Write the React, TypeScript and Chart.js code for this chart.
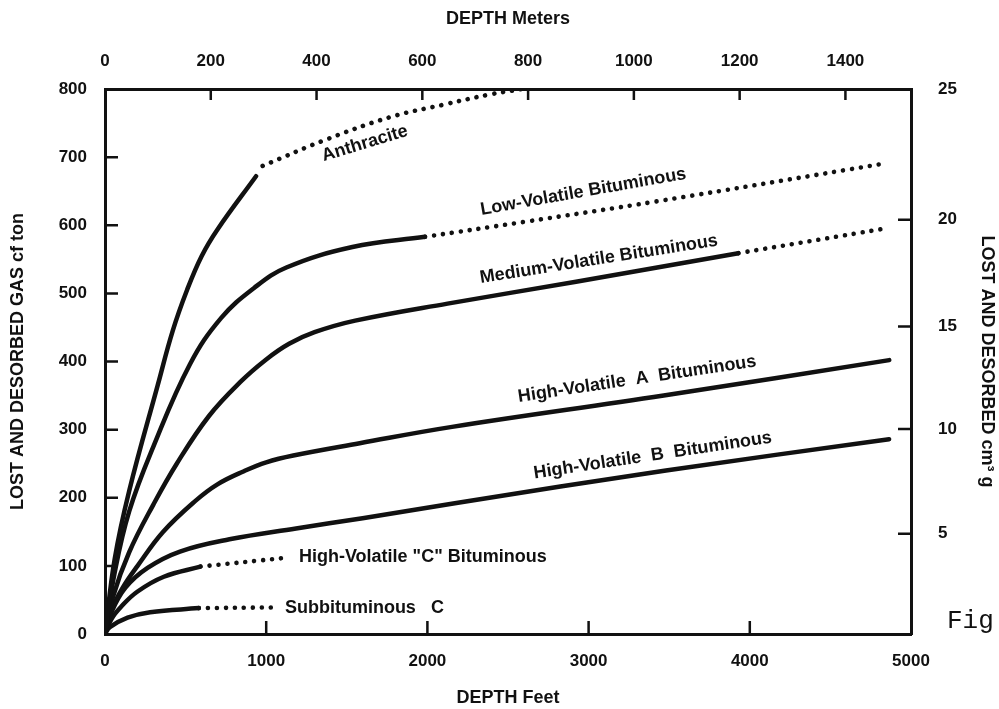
import React, { useEffect, useRef } from 'react';
import { Chart, registerables } from 'chart.js';

Chart.register(...registerables);

// ---------- axes ----------
const bottomTickValues = [0, 1000, 2000, 3000, 4000, 5000];
const topTickValues = [0, 200, 400, 600, 800, 1000, 1200, 1400];
const leftTickValues = [0, 100, 200, 300, 400, 500, 600, 700, 800];
const rightTickPositions = [4.6, 9.4, 14.1, 19.0, 25];
const rightTickLabels = ['5', '10', '15', '20', '25'];
const FEET_MAX = 5000;
const METERS_MAX = FEET_MAX * 0.3048;

// ---------- series (depth ft, gas cf/ton) ----------
const anthraciteSolidFt = [0, 60, 150, 328, 420, 509, 600, 701, 937];
const anthraciteSolidGas = [0, 110, 210, 366, 445, 505, 555, 595, 672];
const anthraciteDotFt = [978, 1363, 1773, 2100, 2387, 2590];
const anthraciteDotGas = [687, 725, 759, 777, 792, 800];

const lowVolSolidFt = [0, 60, 150, 300, 527, 721, 925, 1125, 1535, 1985];
const lowVolSolidGas = [0, 90, 180, 275, 396, 464, 508, 538, 568, 583];
const lowVolDotFt = [1985, 2602, 3421, 4820];
const lowVolDotGas = [583, 605, 635, 690];

const medVolSolidFt = [0, 50, 150, 300, 445, 645, 840, 1000, 1142, 1300, 1552, 2125, 2922, 3929];
const medVolSolidGas = [0, 55, 120, 190, 250, 320, 370, 403, 426, 443, 460, 485, 517, 559];
const medVolDotFt = [3929, 4835];
const medVolDotGas = [559, 595];

const hvaFt = [0, 40, 110, 202, 361, 559, 700, 862, 1000, 1168, 1580, 2153, 3466, 4865];
const hvaGas = [0, 35, 68, 100, 150, 195, 220, 239, 252, 262, 280, 304, 350, 402];

const hvbFt = [0, 40, 127, 264, 465, 772, 1185, 1598, 2170, 3480, 4864];
const hvbGas = [0, 32, 68, 97, 121, 139, 155, 170, 192, 240, 286];

const hvcSolidFt = [0, 40, 100, 200, 365, 592];
const hvcSolidGas = [0, 22, 40, 62, 84, 99];
const hvcDotFt = [592, 1129];
const hvcDotGas = [99, 112];

const subSolidFt = [0, 30, 140, 280, 582];
const subSolidGas = [0, 10, 24, 32, 38];
const subDotFt = [582, 1046];
const subDotGas = [38, 39];

// ---------- curve labels ----------
const curveLabelTexts = [
  'Anthracite',
  'Low-Volatile Bituminous',
  'Medium-Volatile Bituminous',
  'High-Volatile  A  Bituminous',
  'High-Volatile  B  Bituminous',
  'High-Volatile "C" Bituminous',
  'Subbituminous   C',
];
const curveLabelFt = [1612, 2967, 3063, 3301, 3398, 1203, 1116];
const curveLabelGas = [720, 649, 550, 374, 262, 113, 38];
const curveLabelAngle = [17, 10, 9, 8.5, 8.6, 0, 0];
const curveLabelAlign = ['center', 'center', 'center', 'center', 'center', 'left', 'left'];

// ---------- layout ----------
const W = 999;
const H = 709;
const PLOT_LEFT = 105;
const PLOT_RIGHT = 911;
const PLOT_TOP = 89;
const PLOT_BOTTOM = 634;

const INK = '#111';
const SANS = "'Liberation Sans', Arial, Helvetica, sans-serif";
const tickFont = { family: SANS, size: 17, weight: 'bold' as const };
const titleFont = { family: SANS, size: 18, weight: 'bold' as const };

const plainLabel = (v: any) => String(v);

const frameTicks = {
  id: 'frameTicks',
  afterDraw(chart: any) {
    const { ctx, chartArea: a, scales } = chart;
    ctx.save();
    ctx.strokeStyle = INK;
    ctx.lineWidth = 2.5;
    ctx.beginPath();
    bottomTickValues.slice(1, -1).forEach((v) => {
      const px = scales.x.getPixelForValue(v);
      ctx.moveTo(px, a.bottom);
      ctx.lineTo(px, a.bottom - 13);
    });
    topTickValues.slice(1).forEach((v) => {
      const px = scales.x2.getPixelForValue(v);
      ctx.moveTo(px, a.top);
      ctx.lineTo(px, a.top + 11);
    });
    leftTickValues.slice(1, -1).forEach((v) => {
      const py = scales.y.getPixelForValue(v);
      ctx.moveTo(a.left, py);
      ctx.lineTo(a.left + 13, py);
    });
    rightTickPositions.slice(0, -1).forEach((v) => {
      const py = scales.y2.getPixelForValue(v);
      ctx.moveTo(a.right, py);
      ctx.lineTo(a.right - 13, py);
    });
    ctx.stroke();

    // figure caption fragment at the right edge
    ctx.fillStyle = INK;
    ctx.font = "26px 'Liberation Mono', 'DejaVu Sans Mono', monospace";
    ctx.textAlign = 'left';
    ctx.textBaseline = 'alphabetic';
    ctx.fillText('Fig', 947, 628);
    ctx.restore();
  },
};

const curveLabels = {
  id: 'curveLabels',
  afterDatasetsDraw(chart: any) {
    const { ctx, scales } = chart;
    ctx.save();
    ctx.fillStyle = INK;
    ctx.font = `bold 18px ${SANS}`;
    ctx.textBaseline = 'middle';
    curveLabelTexts.forEach((t, i) => {
      const px = scales.x.getPixelForValue(curveLabelFt[i]);
      const py = scales.y.getPixelForValue(curveLabelGas[i]);
      ctx.save();
      ctx.translate(px, py);
      ctx.rotate((-curveLabelAngle[i] * Math.PI) / 180);
      ctx.textAlign = curveLabelAlign[i] as CanvasTextAlign;
      ctx.fillText(t, 0, 0);
      ctx.restore();
    });
    ctx.restore();
  },
};

const pts = (fts: number[], gas: number[]) => fts.map((x, i) => ({ x, y: gas[i] }));

const solid = (label: string, fts: number[], gas: number[]) => ({
  label,
  data: pts(fts, gas),
  borderColor: INK,
  borderWidth: 4.5,
  pointRadius: 0,
  fill: false,
  tension: 0.4,
  borderCapStyle: 'round' as const,
  borderJoinStyle: 'round' as const,
});

const dotted = (label: string, fts: number[], gas: number[]) => ({
  ...solid(label, fts, gas),
  borderWidth: 4.6,
  borderDash: [0.01, 9],
});

export default function App() {
  const ref = useRef<HTMLCanvasElement>(null);

  useEffect(() => {
    const canvas = ref.current;
    if (!canvas) return;
    const chart = new Chart(canvas, {
      type: 'line',
      data: {
        datasets: [
          solid('Anthracite', anthraciteSolidFt, anthraciteSolidGas),
          dotted('Anthracite (extrapolated)', anthraciteDotFt, anthraciteDotGas),
          solid('Low-Volatile Bituminous', lowVolSolidFt, lowVolSolidGas),
          dotted('Low-Volatile Bituminous (extrapolated)', lowVolDotFt, lowVolDotGas),
          solid('Medium-Volatile Bituminous', medVolSolidFt, medVolSolidGas),
          dotted('Medium-Volatile Bituminous (extrapolated)', medVolDotFt, medVolDotGas),
          solid('High-Volatile A Bituminous', hvaFt, hvaGas),
          solid('High-Volatile B Bituminous', hvbFt, hvbGas),
          solid('High-Volatile C Bituminous', hvcSolidFt, hvcSolidGas),
          dotted('High-Volatile C Bituminous (extrapolated)', hvcDotFt, hvcDotGas),
          solid('Subbituminous C', subSolidFt, subSolidGas),
          dotted('Subbituminous C (extrapolated)', subDotFt, subDotGas),
        ],
      },
      options: {
        animation: false,
        responsive: false,
        devicePixelRatio: 1,
        layout: { padding: 0 },
        plugins: {
          legend: { display: false },
          tooltip: { enabled: false },
        },
        scales: {
          x: {
            type: 'linear',
            position: 'bottom',
            min: 0,
            max: FEET_MAX,
            afterBuildTicks: (s: any) => {
              s.ticks = bottomTickValues.map((v) => ({ value: v }));
            },
            afterFit: (s: any) => {
              s.height = H - PLOT_BOTTOM;
            },
            grid: { display: false, drawTicks: false },
            border: { display: true, width: 3, color: INK },
            ticks: { autoSkip: false, maxRotation: 0, padding: 17, color: INK, font: tickFont, callback: plainLabel },
            title: { display: true, text: 'DEPTH Feet', color: INK, font: titleFont, padding: { top: 0, bottom: 0 } },
          },
          x2: {
            type: 'linear',
            position: 'top',
            min: 0,
            max: METERS_MAX,
            afterBuildTicks: (s: any) => {
              s.ticks = topTickValues.map((v) => ({ value: v }));
            },
            afterFit: (s: any) => {
              s.height = PLOT_TOP;
            },
            grid: { display: false, drawTicks: false },
            border: { display: true, width: 3, color: INK },
            ticks: { autoSkip: false, maxRotation: 0, padding: 17, color: INK, font: tickFont, callback: plainLabel },
            title: { display: true, text: 'DEPTH Meters', color: INK, font: titleFont, padding: { top: 8, bottom: 0 } },
          },
          y: {
            type: 'linear',
            position: 'left',
            min: 0,
            max: 800,
            afterBuildTicks: (s: any) => {
              s.ticks = leftTickValues.map((v) => ({ value: v }));
            },
            afterFit: (s: any) => {
              s.width = PLOT_LEFT;
            },
            grid: { display: false, drawTicks: false },
            border: { display: true, width: 3, color: INK },
            ticks: { autoSkip: false, padding: 18, color: INK, font: tickFont, callback: plainLabel },
            title: { display: true, text: 'LOST AND DESORBED GAS cf ton', color: INK, font: titleFont, padding: { top: 7, bottom: 0 } },
          },
          y2: {
            type: 'linear',
            position: 'right',
            min: 0,
            max: 25,
            afterBuildTicks: (s: any) => {
              s.ticks = rightTickPositions.map((v) => ({ value: v }));
            },
            afterFit: (s: any) => {
              s.width = W - PLOT_RIGHT;
            },
            grid: { display: false, drawTicks: false },
            border: { display: true, width: 3, color: INK },
            ticks: {
              autoSkip: false,
              padding: 27,
              color: INK,
              font: tickFont,
              callback: (_v: any, i: number) => rightTickLabels[i],
            },
            title: { display: true, text: 'LOST AND DESORBED cm³ g', color: INK, font: titleFont, padding: { top: 1, bottom: 0 } },
          },
        },
      } as any,
      plugins: [frameTicks, curveLabels],
    });
    return () => chart.destroy();
  }, []);

  return (
    <div style={{ position: 'fixed', left: 0, top: 0, width: W, height: H, background: '#fff', overflow: 'hidden' }}>
      <canvas ref={ref} width={W} height={H} style={{ display: 'block', width: W, height: H }} />
    </div>
  );
}
